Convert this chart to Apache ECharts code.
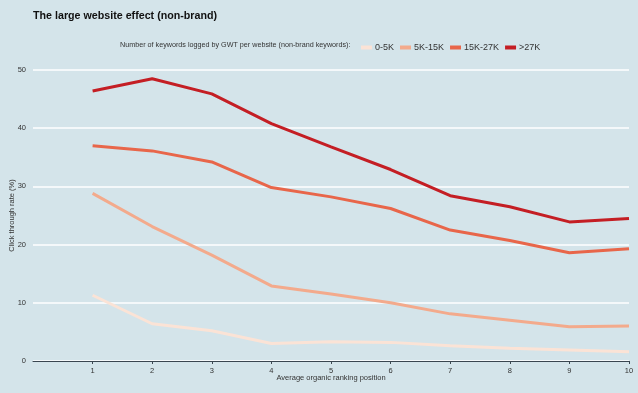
<!DOCTYPE html>
<html>
<head>
<meta charset="utf-8">
<script src="https://cdn.jsdelivr.net/npm/echarts@6/dist/echarts.min.js"></script>
<style>
html,body{margin:0;padding:0;background:#d4e4ea;}
#c{width:638px;height:393px;}
</style>
</head>
<body>
<div id="c"></div>
<script>
const positions = [1, 2, 3, 4, 5, 6, 7, 8, 9, 10];
const seriesNames = ['0-5K', '5K-15K', '15K-27K', '>27K'];
const ctr0to5K = [11.3, 6.4, 5.2, 3.0, 3.3, 3.2, 2.6, 2.2, 1.9, 1.6];
const ctr5Kto15K = [28.8, 23.1, 18.2, 12.9, 11.5, 10.0, 8.1, 7.0, 5.9, 6.0];
const ctr15Kto27K = [37.0, 36.1, 34.2, 29.8, 28.2, 26.2, 22.5, 20.7, 18.6, 19.3];
const ctrOver27K = [46.4, 48.5, 45.9, 40.8, 36.8, 32.9, 28.4, 26.5, 23.9, 24.5];
const yTicks = [0, 10, 20, 30, 40, 50];

const colors = ['#fbe3d6', '#f3aa8c', '#e8664a', '#c41e24'];
const allValues = [ctr0to5K, ctr5Kto15K, ctr15Kto27K, ctrOver27K];
const font = '"Liberation Sans", Arial, sans-serif';

const chart = echarts.init(document.getElementById('c'), null, {renderer: 'canvas'});
chart.setOption({
  backgroundColor: '#d4e4ea',
  animation: false,
  title: {
    text: 'The large website effect (non-brand)',
    left: 28, top: 6,
    textStyle: {fontFamily: font, fontSize: 10.7, fontWeight: 'bold', color: '#111'}
  },
  graphic: [{
    type: 'text', left: 120, top: 42,
    style: {text: 'Number of keywords logged by GWT per website (non-brand keywords):', fontFamily: font, fontSize: 7.2, fill: '#333'}
  }],
  legend: {
    data: seriesNames,
    left: 356, top: 38,
    icon: 'rect', itemWidth: 11, itemHeight: 4, itemGap: 6,
    textStyle: {fontFamily: font, fontSize: 9, color: '#333', padding: [0, 0, 0, -2]}
  },
  grid: {left: 33, right: 9, top: 70, bottom: 32, outerBoundsMode: 'none', containLabel: false},
  xAxis: {
    type: 'value', min: 0, max: 10, interval: 1,
    name: 'Average organic ranking position', nameLocation: 'middle', nameGap: 13, nameMoveOverlap: false,
    nameTextStyle: {fontFamily: font, fontSize: 7.5, color: '#333'},
    axisLine: {show: true, lineStyle: {color: '#3a4650', width: 1}},
    axisTick: {show: true, length: 3, lineStyle: {color: '#3a4650'}, customValues: positions},
    axisLabel: {fontFamily: font, fontSize: 7.5, color: '#333', margin: 6, customValues: positions},
    splitLine: {show: false}
  },
  yAxis: {
    type: 'value', min: 0, max: 50, interval: 10,
    name: 'Click through rate (%)', nameLocation: 'middle', nameGap: 17, nameRotate: 90, nameMoveOverlap: false,
    nameTextStyle: {fontFamily: font, fontSize: 7.5, color: '#333'},
    axisLine: {show: false}, axisTick: {show: false},
    axisLabel: {fontFamily: font, fontSize: 7.5, color: '#333', margin: 7},
    splitLine: {show: true, lineStyle: {color: '#ffffff', width: 1.5}}
  },
  series: seriesNames.map((n, i) => ({
    name: n, type: 'line', showSymbol: false, symbol: 'none',
    color: colors[i],
    lineStyle: {width: 3, color: colors[i]},
    data: positions.map((p, j) => [p, allValues[i][j]])
  }))
});
</script>
</body>
</html>
